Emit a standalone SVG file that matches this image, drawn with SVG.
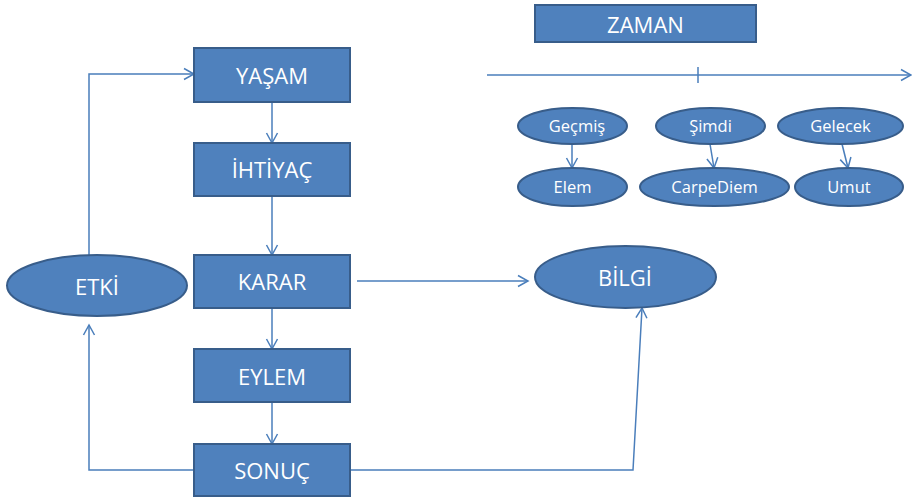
<svg xmlns="http://www.w3.org/2000/svg" width="912" height="497" viewBox="0 0 912 497">
<defs>
<style>
.n{fill:#4F81BD;stroke:#385D8A;stroke-width:2}
.t{fill:#FFFFFF;font-family:"Open Sans","Liberation Sans",sans-serif;font-size:22px;text-anchor:middle}
.s{fill:#FFFFFF;font-family:"Open Sans","Liberation Sans",sans-serif;font-size:16.5px;text-anchor:middle}
.c{fill:none;stroke:#4A7EBB;stroke-width:1.5}
</style>
<marker id="ah" markerUnits="userSpaceOnUse" markerWidth="14" markerHeight="14" viewBox="0 0 14 14" refX="12" refY="7" orient="auto">
<path d="M2,1.5 L12,7 L2,12.5" fill="none" stroke="#4A7EBB" stroke-width="1.5"/>
</marker>
</defs>
<g id="connectors">
<path class="c" d="M272,102 V143" marker-end="url(#ah)"/>
<path class="c" d="M272,196 V255" marker-end="url(#ah)"/>
<path class="c" d="M272,308 V349" marker-end="url(#ah)"/>
<path class="c" d="M272,402 V444" marker-end="url(#ah)"/>
<path class="c" d="M89,255 V74 H194" marker-end="url(#ah)"/>
<path class="c" d="M194,470 H89 V325" marker-end="url(#ah)"/>
<path class="c" d="M357,281 H528" marker-end="url(#ah)"/>
<path class="c" d="M350,470 H633 L642,308" marker-end="url(#ah)"/>
<path class="c" d="M487,75 H911" marker-end="url(#ah)"/>
<path class="c" d="M698,67 V83"/>
<path class="c" d="M572,144 V168" marker-end="url(#ah)"/>
<path class="c" d="M710,144 L714,168" marker-end="url(#ah)"/>
<path class="c" d="M842,144 L848,168" marker-end="url(#ah)"/>
</g>
<g id="zaman"><rect class="n" x="535" y="5" width="221" height="37"/><text class="t" x="645.5" y="33">ZAMAN</text></g>
<g id="yasam"><rect class="n" x="194" y="48" width="156" height="54"/><text class="t" x="272" y="84">YAŞAM</text></g>
<g id="ihtiyac"><rect class="n" x="194" y="143" width="156" height="53"/><text class="t" x="272" y="178">İHTİYAÇ</text></g>
<g id="karar"><rect class="n" x="194" y="255" width="156" height="53"/><text class="t" x="272" y="290">KARAR</text></g>
<g id="eylem"><rect class="n" x="194" y="349" width="156" height="53"/><text class="t" x="272" y="385">EYLEM</text></g>
<g id="sonuc"><rect class="n" x="194" y="444" width="156" height="52"/><text class="t" x="272" y="479">SONUÇ</text></g>
<g id="etki"><ellipse class="n" cx="97" cy="285.5" rx="90" ry="30.5"/><text class="t" x="97" y="295">ETKİ</text></g>
<g id="bilgi"><ellipse class="n" cx="625.5" cy="277" rx="90.5" ry="31"/><text class="t" x="625" y="286">BİLGİ</text></g>
<g id="gecmis"><ellipse class="n" cx="572.5" cy="126" rx="54.5" ry="18"/><text class="s" x="577" y="132">Geçmiş</text></g>
<g id="simdi"><ellipse class="n" cx="710.5" cy="126" rx="54.5" ry="18"/><text class="s" x="710.5" y="132">Şimdi</text></g>
<g id="gelecek"><ellipse class="n" cx="840.5" cy="126" rx="62.5" ry="18"/><text class="s" x="840.5" y="132">Gelecek</text></g>
<g id="elem"><ellipse class="n" cx="572.5" cy="187" rx="54.5" ry="19"/><text class="s" x="572.5" y="193">Elem</text></g>
<g id="carpediem"><ellipse class="n" cx="714.5" cy="187" rx="74.5" ry="19"/><text class="s" x="714.5" y="193">CarpeDiem</text></g>
<g id="umut"><ellipse class="n" cx="849" cy="187" rx="54" ry="19"/><text class="s" x="849" y="193">Umut</text></g>
</svg>
